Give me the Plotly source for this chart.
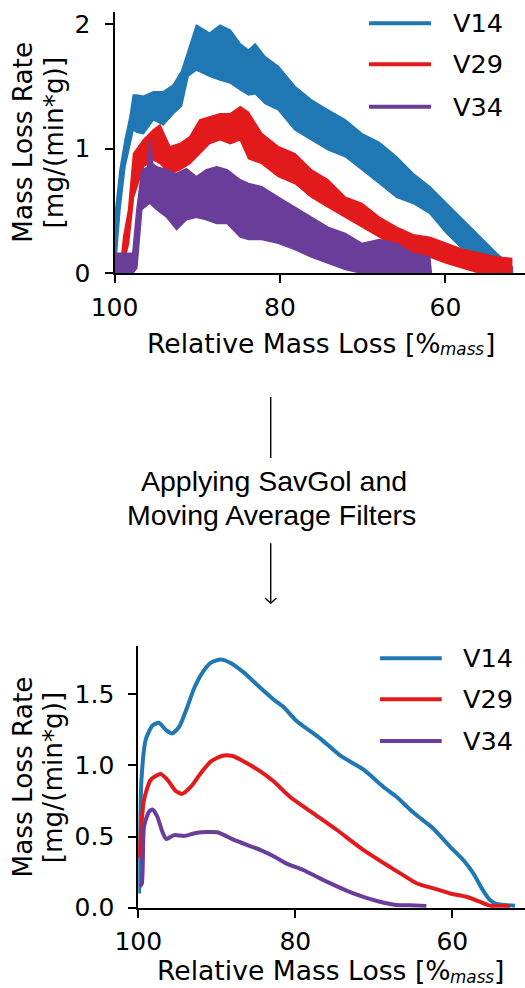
import plotly.graph_objects as go

W, H = 525, 988
BLUE, RED, PURPLE = "#1f78b4", "#e31a1c", "#6a3d9a"
series_names = ["V14", "V29", "V34"]

# ---------------- raw (noisy) data: envelope of the noisy signal ----------------
raw_v14_x = [99.95, 99.66, 99.34, 98.73, 98.13, 97.73, 97.3, 96.5, 95.3, 94.1, 92.9, 91.9, 91.1, 90.1,
             88.5, 87.25, 86.0, 84.8, 83.8, 83.0, 81.8, 80.2, 78.2, 76.2, 74.2, 72.1, 70.1, 68.0,
             65.9, 63.9, 61.9, 59.85, 57.85, 55.8, 53.8, 51.9]
raw_v14_hi = [0.45, 0.62, 0.83, 1.07, 1.256, 1.43, 1.43, 1.42, 1.456, 1.456, 1.51, 1.62, 1.79, 1.99,
              1.925, 1.99, 1.95, 1.84, 1.79, 1.84, 1.737, 1.66, 1.50, 1.39, 1.31, 1.23, 1.12, 1.05,
              0.935, 0.80, 0.695, 0.56, 0.43, 0.29, 0.16, 0.05]
raw_v14_lo = [0.0, 0.24, 0.51, 0.855, 1.04, 1.15, 1.13, 1.12, 1.23, 1.19, 1.28, 1.34, 1.58, 1.63,
              1.58, 1.55, 1.525, 1.47, 1.43, 1.44, 1.36, 1.31, 1.15, 1.07, 0.99, 0.935, 0.83, 0.72,
              0.61, 0.56, 0.48, 0.32, 0.19, 0.107, 0.03, 0.0]

raw_v29_x = [99.2, 98.9, 98.3, 97.7, 96.5, 95.3, 94.5, 93.3, 92.1, 90.9, 89.7, 88.5, 87.25, 86.0,
             84.8, 83.8, 82.2, 80.2, 78.2, 76.2, 74.2, 72.1, 70.1, 68.0, 65.9, 63.9, 61.9, 59.85,
             57.85, 55.8, 53.8, 52.0]
raw_v29_hi = [0.10, 0.29, 0.51, 0.96, 1.07, 1.15, 1.19, 1.015, 1.04, 1.095, 1.23, 1.256, 1.28, 1.28,
              1.336, 1.29, 1.12, 1.015, 0.96, 0.83, 0.75, 0.61, 0.56, 0.45, 0.37, 0.31, 0.29, 0.24,
              0.19, 0.16, 0.13, 0.12]
raw_v29_lo = [0.0, 0.08, 0.24, 0.61, 0.855, 0.91, 0.88, 0.80, 0.83, 0.88, 0.96, 1.04, 1.07, 1.04,
              1.07, 0.92, 0.88, 0.775, 0.72, 0.61, 0.53, 0.45, 0.37, 0.29, 0.21, 0.16, 0.13, 0.08,
              0.04, 0.0, 0.0, 0.0]

raw_v34_x = [99.95, 97.8, 97.3, 96.7, 96.0, 95.7, 95.4, 94.9, 93.7, 92.5, 91.3, 90.1, 88.9, 87.65,
             86.4, 84.8, 83.8, 82.2, 80.2, 78.2, 76.2, 74.2, 72.1, 70.1, 68.0, 65.9, 63.9, 61.9, 61.7]
raw_v34_hi = [0.16, 0.16, 0.51, 0.83, 0.85, 1.07, 0.88, 0.855, 0.83, 0.80, 0.84, 0.775, 0.83, 0.855,
              0.83, 0.75, 0.72, 0.695, 0.61, 0.53, 0.45, 0.37, 0.32, 0.24, 0.27, 0.24, 0.16, 0.13, 0.0]
raw_v34_lo = [0.0, 0.0, 0.04, 0.51, 0.55, 0.56, 0.54, 0.51, 0.45, 0.35, 0.43, 0.45, 0.43, 0.40,
              0.40, 0.29, 0.27, 0.27, 0.24, 0.19, 0.13, 0.08, 0.03, 0.0, 0.0, 0.0, 0.0, 0.0, 0.0]

# ---------------- filtered (smoothed) data ----------------
f_v14_x = [99.9, 99.6, 99.06, 98.2, 97.36, 96.5, 95.67, 94.8, 93.76, 92.9, 91.85, 90.78, 89.5, 88.23,
           86.5, 84.84, 82.7, 81.5, 79.8, 76.85, 74.3, 71.3, 68.8, 67.1, 65.4, 64.1, 62.4, 60.3, 58.6,
           57.3, 56.25, 55.2, 54.35, 52.0]
f_v14_y = [0.10, 0.90, 1.18, 1.28, 1.30, 1.25, 1.225, 1.27, 1.41, 1.54, 1.65, 1.72, 1.745, 1.72,
           1.65, 1.565, 1.46, 1.41, 1.31, 1.19, 1.07, 0.97, 0.85, 0.78, 0.69, 0.63, 0.555, 0.43, 0.335,
           0.24, 0.136, 0.054, 0.026, 0.014]
f_v29_x = [99.87, 99.27, 98.4, 97.15, 96.3, 95.24, 94.4, 93.3, 92.05, 90.78, 89.3, 88.0, 86.5, 84.4,
           82.7, 80.7, 77.7, 74.7, 71.3, 68.35, 66.0, 64.5, 62.4, 60.3, 58.2, 56.5, 55.2, 52.65]
f_v29_y = [0.35, 0.76, 0.90, 0.94, 0.90, 0.82, 0.80, 0.85, 0.945, 1.026, 1.068, 1.066, 1.026, 0.956,
           0.885, 0.78, 0.663, 0.546, 0.405, 0.30, 0.22, 0.17, 0.136, 0.10, 0.077, 0.042, 0.014, 0.012]
f_v34_x = [99.8, 99.55, 99.27, 98.64, 98.2, 97.58, 96.94, 96.43, 95.45, 94.18, 92.5, 89.94, 87.8, 86.1,
           84.4, 82.7, 81.1, 79.0, 76.0, 72.6, 69.6, 67.1, 65.4, 63.3]
f_v34_y = [0.15, 0.17, 0.57, 0.675, 0.69, 0.64, 0.534, 0.483, 0.51, 0.504, 0.527, 0.53, 0.476, 0.44,
           0.405, 0.36, 0.31, 0.265, 0.183, 0.10, 0.047, 0.019, 0.017, 0.012]

top_yticks = [0, 1, 2]
bot_yticks = [0.0, 0.5, 1.0, 1.5]
xticks = [100, 80, 60]

# ---------------- helpers (pixel -> paper) ----------------
def PX(x):
    return x / W

def PY(y):
    return 1 - y / H

fig = go.Figure()

raw = [(raw_v14_x, raw_v14_hi, raw_v14_lo, BLUE),
       (raw_v29_x, raw_v29_hi, raw_v29_lo, RED),
       (raw_v34_x, raw_v34_hi, raw_v34_lo, PURPLE)]
for (xs, hi, lo, c), name in zip(raw, series_names):
    fig.add_trace(go.Scatter(x=xs + xs[::-1], y=hi + lo[::-1], fill="toself", fillcolor=c,
                             mode="lines", line=dict(color=c, width=1.5), name=name,
                             showlegend=False, xaxis="x", yaxis="y", hoverinfo="skip"))

filt = [(f_v14_x, f_v14_y, BLUE), (f_v29_x, f_v29_y, RED), (f_v34_x, f_v34_y, PURPLE)]
for (xs, ys, c), name in zip(filt, series_names):
    fig.add_trace(go.Scatter(x=xs, y=ys, mode="lines", line=dict(color=c, width=4, shape="spline",
                             smoothing=0.6), name=name, showlegend=False, xaxis="x2", yaxis="y2"))

tickfont = dict(family="DejaVu Sans", size=25, color="black")
axcommon = dict(showline=True, linecolor="black", linewidth=2, ticks="outside", ticklen=8,
                tickwidth=2, tickcolor="black", showgrid=False, zeroline=False, tickfont=tickfont,
                automargin=False)

fig.update_layout(
    width=W, height=H, autosize=False, margin=dict(l=0, r=0, t=0, b=0, pad=0),
    paper_bgcolor="white", plot_bgcolor="white", showlegend=False,
    xaxis=dict(domain=[PX(114.5), 1.0], range=[100, 50.39], anchor="y",
               tickvals=xticks, ticklabelstandoff=3, **axcommon),
    yaxis=dict(domain=[PY(273.3), PY(12)], range=[0, 2.095], anchor="x",
               tickvals=top_yticks, ticklabelstandoff=9, **axcommon),
    xaxis2=dict(domain=[PX(138.3), 1.0], range=[100, 50.74], anchor="y2",
                tickvals=xticks, ticklabelstandoff=2, **axcommon),
    yaxis2=dict(domain=[PY(907.7), PY(646)], range=[0, 1.839], anchor="x2",
                tickvals=bot_yticks, tickformat=".1f", ticklabelstandoff=9, **axcommon),
)

LAB = 26.3
lab = dict(family="DejaVu Sans", size=LAB, color="black")
ann = []
# y axis titles
ann.append(dict(x=PX(23.3), y=PY(142.5), text="Mass Loss Rate", textangle=-90, font=lab))
ann.append(dict(x=PX(54), y=PY(142.5), text="[mg/(min*g)]", textangle=-90, font=lab))
ann.append(dict(x=PX(22.5), y=PY(777), text="Mass Loss Rate", textangle=-90, font=lab))
ann.append(dict(x=PX(53.3), y=PY(777), text="[mg/(min*g)]", textangle=-90, font=lab))

# x axis titles: "Relative Mass Loss [%" + subscript italic "mass" + "]"
XL = 26.6
SUB = 16.8
main_w = 11.101 * XL      # DejaVu Sans advance widths (em) of "Relative Mass Loss [%"
sub_w = 2.629 * SUB       # "mass"
xlab = dict(family="DejaVu Sans", size=XL, color="black")
sublab = dict(family="DejaVu Sans", size=SUB, color="black", style="italic")
for left, yc in [(146.7, 343), (156.5, 970.5)]:
    ann.append(dict(x=PX(left), y=PY(yc), text="Relative Mass Loss [%", xanchor="left", font=xlab))
    ann.append(dict(x=PX(left + main_w - 1.5), y=PY(yc + 6.3), text="mass", xanchor="left", font=sublab))
    ann.append(dict(x=PX(left + main_w + sub_w - 1.5), y=PY(yc), text="]", xanchor="left", font=xlab))

shapes = []
# legends
colors = [BLUE, RED, PURPLE]
leg = dict(family="DejaVu Sans", size=25.6, color="black")
for ys, x0, x1, tx in [([23.3, 64.3, 106.7], 369, 431, 453.3), ([658.3, 699.3, 741], 380, 441.7, 463.3)]:
    for yy, c, n in zip(ys, colors, series_names):
        shapes.append(dict(type="line", xref="paper", yref="paper", x0=PX(x0), x1=PX(x1),
                           y0=PY(yy), y1=PY(yy), line=dict(color=c, width=4)))
        ann.append(dict(x=PX(tx), y=PY(yy), text=n, xanchor="left", font=leg))

# middle text and arrow
mid = dict(family="Liberation Sans", size=28.5, color="black")
ann.append(dict(x=PX(274), y=PY(481), text="Applying SavGol and", font=mid))
ann.append(dict(x=PX(271), y=PY(514.5), text="Moving Average Filters", font=mid))
shapes.append(dict(type="line", xref="paper", yref="paper", x0=PX(270.7), x1=PX(270.7),
                   y0=PY(397), y1=PY(458), line=dict(color="black", width=1.4)))
shapes.append(dict(type="line", xref="paper", yref="paper", x0=PX(270.7), x1=PX(270.7),
                   y0=PY(543.3), y1=PY(602.5), line=dict(color="black", width=1.4)))
shapes.append(dict(type="path", xref="paper", yref="paper",
                   path=f"M{PX(265)},{PY(598)} L{PX(270.7)},{PY(603.3)} L{PX(276.4)},{PY(598)}",
                   line=dict(color="black", width=1.4)))

for a in ann:
    a.setdefault("xref", "paper")
    a.setdefault("yref", "paper")
    a.setdefault("showarrow", False)
    a.setdefault("xanchor", "center")
    a.setdefault("yanchor", "middle")
    a.setdefault("borderpad", 0)
    a.setdefault("borderwidth", 0)
fig.update_layout(annotations=ann, shapes=shapes)

post = ("document.documentElement.style.margin='0';document.documentElement.style.padding='0';"
        "document.body.style.margin='0';document.body.style.padding='0';"
        "document.body.style.overflow='hidden';")
fig.write_html("out.html", config={"responsive": False, "displayModeBar": False}, post_script=post)
